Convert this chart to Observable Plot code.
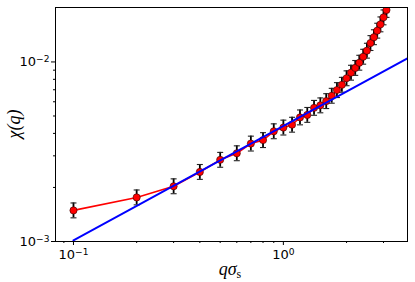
<!DOCTYPE html>
<html><head><meta charset="utf-8">
<script src="https://cdn.jsdelivr.net/npm/d3@7"></script>
<script src="https://cdn.jsdelivr.net/npm/@observablehq/plot@0.6"></script>
<style>body{margin:0;background:#fff} svg{display:block}</style>
</head><body><div id="chart"></div>
<script>
// measured data: chi(q) vs q*sigma_s
const q = [0.1,0.2,0.3,0.4,0.5,0.6,0.7,0.8,0.9,1.0,1.1,1.2,1.3,1.4,1.5,1.6,1.7,1.8,1.9,2.0,2.1,2.2,2.3,2.4,2.5,2.6,2.7,2.8,2.9,3.0,3.1];
const chi = [0.00149,0.00176,0.00203,0.00244,0.00285,0.00310,0.00351,0.00367,0.00411,0.00431,0.00447,0.00491,0.00507,0.00555,0.00573,0.00605,0.00648,0.00697,0.00746,0.00811,0.00871,0.00926,0.00990,0.01069,0.01155,0.01274,0.01373,0.01493,0.01619,0.01771,0.01948];
const relErr = 0.10;
// power-law fit line endpoints
const fitQ = [0.1, 3.9];
const fitChi = [0.001015, 0.01046];
// ticks
const xMajor = [0.1, 1];
const xMinor = [0.09,0.2,0.3,0.4,0.5,0.6,0.7,0.8,0.9,2,3];
const yMajor = [0.001, 0.01];
const yMinor = [0.002,0.003,0.004,0.005,0.006,0.007,0.008,0.009];

const pts = q.map((v,i)=>({q:v, chi:chi[i], lo:chi[i]/(1+relErr), hi:chi[i]*(1+relErr)}));
const fit = fitQ.map((v,i)=>({q:v, chi:fitChi[i]}));

const expo = d => String(Math.round(Math.log10(d))).replace("-", "−");
const fmt = d => "10^" + expo(d);
const capSym = {draw(ctx){ ctx.moveTo(-3,0); ctx.lineTo(3,0); }};

const chart = Plot.plot({
  width: 415, height: 282,
  marginLeft: 55, marginRight: 8, marginTop: 7, marginBottom: 41,
  style: {fontFamily: "DejaVu Sans", fontSize: "12px", color: "#000", background: "#fff"},
  x: {type: "log", domain: [0.0821, 3.903]},
  y: {type: "log", domain: [0.001, 0.0201]},
  marks: [
    Plot.line(pts, {x: "q", y: "chi", stroke: "red", strokeWidth: 1.6, clip: true}),
    Plot.ruleX(pts, {x: "q", y1: "lo", y2: "hi", stroke: "#000", strokeWidth: 1.8, clip: true}),
    Plot.dot(pts, {x: "q", y: "lo", symbol: capSym, stroke: "#222", strokeWidth: 1.1, r: 3, clip: true}),
    Plot.dot(pts, {x: "q", y: "hi", symbol: capSym, stroke: "#222", strokeWidth: 1.1, r: 3, clip: true}),
    Plot.dot(pts, {x: "q", y: "chi", r: 3.6, fill: "red", stroke: "#300", strokeWidth: 0.6, clip: true}),
    Plot.line(fit, {x: "q", y: "chi", stroke: "blue", strokeWidth: 2, clip: true}),
    Plot.frame({stroke: "#000", strokeWidth: 1}),
    Plot.axisX({ticks: xMajor, tickFormat: fmt, tickSize: 4, tickPadding: 4, label: null, fontSize: 13}),
    Plot.axisX({ticks: xMinor, tickFormat: () => "", tickSize: 2, label: null}),
    Plot.axisY({ticks: yMajor, tickFormat: fmt, tickSize: 4, tickPadding: 2, label: null, fontSize: 13}),
    Plot.axisY({ticks: yMinor, tickFormat: () => "", tickSize: 2, label: null})
  ]
});
document.getElementById("chart").appendChild(chart);

const svg = d3.select(chart);
// render "10^e" tick labels with real superscripts
svg.selectAll("text").each(function() {
  const t = d3.select(this);
  const s = t.text();
  if (s.startsWith("10^")) {
    t.text("10");
    t.append("tspan").attr("dy", "-0.45em").attr("font-size", "0.7em").text(s.slice(3));
  }
});
svg.append("text")
  .attr("transform", "translate(20,124) rotate(-90)")
  .attr("text-anchor", "middle")
  .attr("font-family", "Liberation Serif")
  .attr("font-style", "italic")
  .attr("font-size", 18)
  .attr("fill", "#000")
  .text("χ(q)");
const xl = svg.append("text")
  .attr("x", 230).attr("y", 275)
  .attr("text-anchor", "middle")
  .attr("font-family", "Liberation Serif")
  .attr("font-size", 18)
  .attr("fill", "#000");
xl.append("tspan").attr("font-style", "italic").text("qσ");
xl.append("tspan").attr("font-size", 12).attr("dy", 3).text("s");
</script>
</body></html>
